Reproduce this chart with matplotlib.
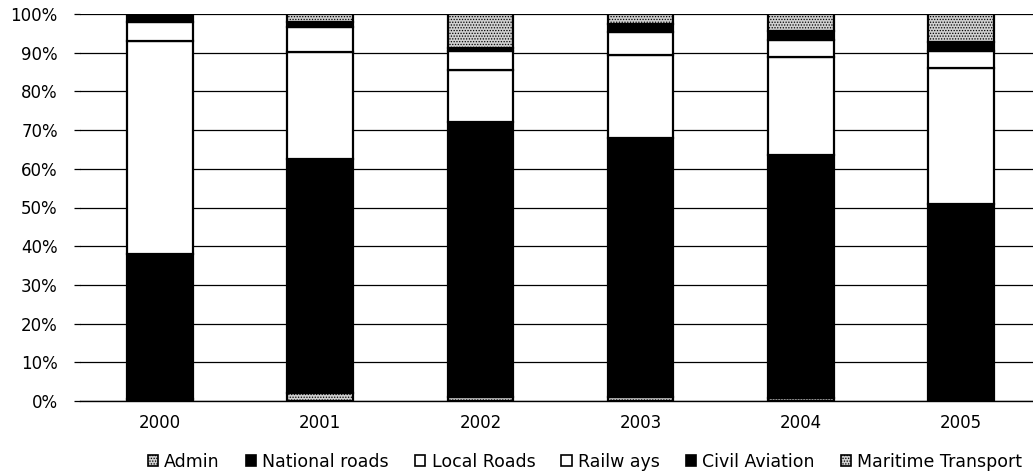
import numpy as np
import matplotlib
matplotlib.use("Agg")
import matplotlib.pyplot as plt
from matplotlib.patches import Patch

plt.rcParams["font.family"] = ["DejaVu Sans"]
plt.rcParams["hatch.color"] = "#606060"
plt.rcParams["hatch.linewidth"] = 0.6

years = ["2000", "2001", "2002", "2003", "2004", "2005"]
# share of spending per sector, percent (stacked bottom -> top)
admin = [0.5, 2.0, 1.0, 1.0, 0.7, 0.0]
national_roads = [37.5, 60.5, 71.0, 67.0, 62.9, 51.0]
local_roads = [55.0, 27.6, 13.5, 21.4, 25.4, 35.0]
railways = [5.0, 6.6, 5.0, 6.0, 4.3, 4.4]
civil_aviation = [2.0, 1.3, 0.6, 1.9, 2.4, 2.4]
maritime = [0.0, 2.0, 8.9, 2.7, 4.3, 7.2]

series = [
    ("Admin", admin, "#d0d0d0", "......"),
    ("National roads", national_roads, "black", None),
    ("Local Roads", local_roads, "white", None),
    ("Railw ays", railways, "white", None),
    ("Civil Aviation", civil_aviation, "black", None),
    ("Maritime Transport", maritime, "#d0d0d0", "......"),
]

fig = plt.figure(figsize=(10.33, 4.74), dpi=100)
ax = fig.add_axes([80 / 1033, 1 - 401 / 474, 953 / 1033, 387 / 474])

x = np.arange(len(years))
bottom = np.zeros(len(years))
handles = []
for name, vals, fc, hatch in series:
    v = np.array(vals, dtype=float)
    ax.bar(x, v, width=0.41, bottom=bottom, color=fc, edgecolor="black",
           linewidth=1.6, hatch=hatch, zorder=3)
    bottom += v
    handles.append(Patch(facecolor=fc, edgecolor="black", linewidth=1.2,
                         hatch=hatch, label=name))

ax.set_xlim(-0.5, 5.45)
ax.set_ylim(0, 100)
ax.set_yticks(np.arange(0, 101, 10))
ax.set_yticklabels([f"{v}%" for v in range(0, 101, 10)])
ax.set_xticks(x)
ax.set_xticklabels(years)
ax.yaxis.grid(True, color="black", linewidth=0.9, zorder=0)
ax.tick_params(axis="y", length=4, width=0.9, pad=12, labelsize=12)
ax.tick_params(axis="x", length=0, pad=9, labelsize=12)
for s in ["left", "right", "top"]:
    ax.spines[s].set_visible(False)
ax.spines["bottom"].set_linewidth(1.0)

fig.legend(handles=handles, loc="center", bbox_to_anchor=(585 / 1033, 1 - 462 / 474),
           ncol=6, frameon=False, fontsize=12.5, handlelength=0.6, handleheight=0.6,
           handletextpad=0.35, columnspacing=1.5, borderpad=0)

fig.savefig("out.png", dpi=100)
